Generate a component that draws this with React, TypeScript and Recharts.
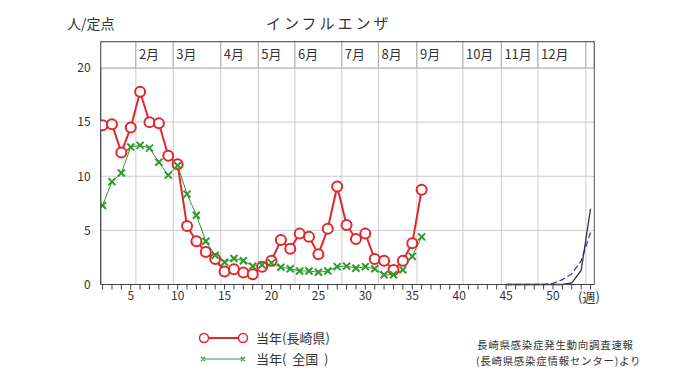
import React from 'react';
import { ComposedChart, Line, XAxis, YAxis, CartesianGrid, ReferenceLine, ReferenceArea } from 'recharts';

// weeks of the current year
const weeks = [2, 3, 4, 5, 6, 7, 8, 9, 10, 11, 12, 13, 14, 15, 16, 17, 18, 19, 20, 21, 22, 23, 24, 25, 26, 27, 28, 29, 30, 31, 32, 33, 34, 35, 36];
const nagasaki = [14.7, 14.8, 12.2, 14.5, 17.8, 15.0, 14.9, 11.9, 11.1, 5.4, 4.0, 3.0, 2.35, 1.2, 1.4, 1.1, 0.95, 1.65, 2.2, 4.1, 3.3, 4.7, 4.4, 2.8, 5.15, 9.05, 5.5, 4.2, 4.7, 2.35, 2.2, 1.35, 2.2, 3.8, 8.75];
const national = [7.3, 9.5, 10.3, 12.7, 12.85, 12.6, 11.3, 10.1, 11.0, 8.35, 6.4, 4.0, 2.7, 2.05, 2.4, 2.2, 1.7, 1.8, 2.0, 1.6, 1.45, 1.25, 1.25, 1.13, 1.25, 1.65, 1.7, 1.5, 1.65, 1.45, 0.9, 0.9, 1.35, 2.6, 4.4];

// end of year lines (black solid / blue dashed)
const tailWeeks = [45, 46, 47, 48, 49, 50, 51, 52, 53, 54];
const tailBlack = [0, 0, 0, 0, 0, 0, 0, 0.15, 1.3, 7.0];
const tailBlue = [0, 0, 0, 0, 0, 0.1, 0.45, 1.0, 2.2, 4.8];

const monthNames = ['', '2月', '3月', '4月', '5月', '6月', '7月', '8月', '9月', '10月', '11月', '12月', ''];
const monthEdges = [1.8, 5.55, 9.53, 14.6, 18.6, 22.5, 27.5, 31.4, 35.5, 40.4, 44.5, 48.4, 53.5, 54.4];
const weekTicks = [2, 3, 4, 5, 6, 7, 8, 9, 10, 11, 12, 13, 14, 15, 16, 17, 18, 19, 20, 21, 22, 23, 24, 25, 26, 27, 28, 29, 30, 31, 32, 33, 34, 35, 36, 37, 38, 39, 40, 41, 42, 43, 44, 45, 46, 47, 48, 49, 50, 51, 52, 53, 54];
const yTicks = [0, 5, 10, 15, 20];

const X_MIN = 1.8;
const X_MAX = 54.4;
const HEAD = 22.43;

const RED = '#e3262b';
const GREEN = '#2e9a2e';
const FONT = '"Noto Sans CJK JP", "Noto Sans", sans-serif';

const toRows = (xs: number[], ys: number[]) => xs.map((w, i) => ({ week: w, value: ys[i] }));

const CrossDot = (props: any) => {
  const { cx, cy, index } = props;
  if (cx == null || cy == null) return <g key={index} />;
  const s = 3.5;
  return (
    <path
      key={index}
      d={`M${cx - s},${cy - s}L${cx + s},${cy + s}M${cx - s},${cy + s}L${cx + s},${cy - s}`}
      stroke={GREEN}
      strokeWidth={2}
      fill="none"
    />
  );
};

const App: React.FC = () => {
  const redData = toRows(weeks, nagasaki);
  const greenData = toRows(weeks, national);
  const blackData = toRows(tailWeeks, tailBlack);
  const blueData = toRows(tailWeeks, tailBlue);

  return (
    <div style={{ position: 'absolute', left: 0, top: 0, width: 680, height: 382, background: '#fff', fontFamily: FONT, color: '#333' }}>
      <div style={{ position: 'absolute', left: 67, top: 14, fontSize: 14, lineHeight: '18px' }}>人/定点</div>
      <div style={{ position: 'absolute', left: 266, top: 13, fontSize: 15, lineHeight: '20px', letterSpacing: 3 }}>インフルエンザ</div>

      <ComposedChart width={680} height={382} margin={{ top: 68, right: 85.7, left: 60.7, bottom: 67.5 }}>
        <CartesianGrid vertical={false} stroke="#cccccc" />
        {monthEdges.slice(1, -1).map(m => (
          <ReferenceLine key={'g' + m} x={m} stroke="#cccccc" />
        ))}
        {monthNames.map((name, i) => (
          <ReferenceArea
            key={'m' + i}
            x1={monthEdges[i]}
            x2={monthEdges[i + 1]}
            y1={20}
            y2={HEAD}
            ifOverflow="visible"
            fill="#ffffff"
            fillOpacity={1}
            stroke="#aaaaaa"
            label={{ value: name, position: 'insideLeft', offset: 3, fill: '#333', fontSize: 13, fontFamily: FONT }}
          />
        ))}
        <ReferenceLine segment={[{ x: X_MIN, y: HEAD }, { x: X_MAX, y: HEAD }]} ifOverflow="visible" stroke="#555" />
        <ReferenceLine segment={[{ x: X_MIN, y: 0 }, { x: X_MIN, y: HEAD }]} ifOverflow="visible" stroke="#555" />
        <ReferenceLine segment={[{ x: X_MAX, y: 0 }, { x: X_MAX, y: HEAD }]} ifOverflow="visible" stroke="#555" />
        <XAxis
          dataKey="week"
          type="number"
          domain={[X_MIN, X_MAX]}
          ticks={weekTicks}
          interval={0}
          allowDataOverflow
          height={30}
          stroke="#444"
          tickSize={5}
          tickFormatter={(v: number) => (v % 5 === 0 && v <= 50 ? String(v) : '')}
          tick={{ fill: '#333', fontSize: 12, fontFamily: FONT }}
        />
        <YAxis
          type="number"
          domain={[0, 20]}
          ticks={yTicks}
          width={40}
          stroke="#444"
          tickLine={false}
          tickMargin={4}
          tick={{ fill: '#333', fontSize: 12, fontFamily: FONT }}
        />
        <Line data={blueData} dataKey="value" type="linear" stroke="#3040c0" strokeWidth={1.3} strokeDasharray="6 3" dot={false} isAnimationActive={false} />
        <Line data={blackData} dataKey="value" type="linear" stroke="#333" strokeWidth={1.3} dot={false} isAnimationActive={false} />
        <Line data={redData} dataKey="value" type="linear" stroke={RED} strokeWidth={2} dot={{ r: 5, stroke: RED, strokeWidth: 2, fill: '#fff' }} isAnimationActive={false} />
        <Line data={greenData} dataKey="value" type="linear" stroke={GREEN} strokeWidth={1} dot={CrossDot} isAnimationActive={false} />
      </ComposedChart>

      <div style={{ position: 'absolute', left: 578, top: 288, fontSize: 13, lineHeight: '18px' }}>(週)</div>

      <svg style={{ position: 'absolute', left: 196, top: 330 }} width={56} height={38}>
        <line x1={8} y1={8} x2={47} y2={8} stroke={RED} strokeWidth={2} />
        <circle cx={8} cy={8} r={4.5} stroke={RED} strokeWidth={1.5} fill="#fff" />
        <circle cx={47} cy={8} r={4.5} stroke={RED} strokeWidth={1.5} fill="#fff" />
        <line x1={8} y1={29} x2={48} y2={29} stroke={GREEN} strokeWidth={1} />
        <path d="M5,27L9,31M5,31L9,27M45,27L49,31M45,31L49,27" stroke={GREEN} strokeWidth={1.2} fill="none" />
      </svg>
      <div style={{ position: 'absolute', left: 256, top: 329, fontSize: 13, lineHeight: '18px' }}>当年(長崎県)</div>
      <div style={{ position: 'absolute', left: 256, top: 350, fontSize: 13, lineHeight: '18px' }}>当年(&nbsp;&nbsp;全国&nbsp;&nbsp;)</div>

      <div style={{ position: 'absolute', left: 477, top: 337, fontSize: 10.5, lineHeight: '15px', letterSpacing: 0.7, whiteSpace: 'nowrap' }}>長崎県感染症発生動向調査速報</div>
      <div style={{ position: 'absolute', left: 476, top: 352.5, fontSize: 10.5, lineHeight: '15px', letterSpacing: 0.7, whiteSpace: 'nowrap' }}>(長崎県感染症情報センター)より</div>
    </div>
  );
};

export default App;
